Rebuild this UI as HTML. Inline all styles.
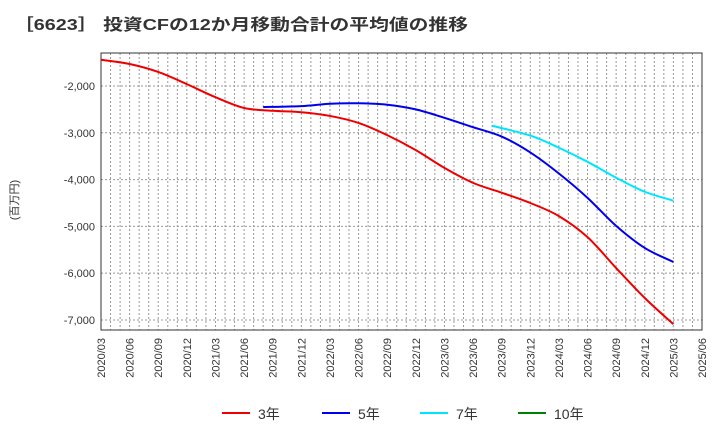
<!DOCTYPE html>
<html><head><meta charset="utf-8"><style>
body{margin:0;background:#fff;font-family:"Liberation Sans","Noto Sans CJK JP",sans-serif}
</style></head><body>
<svg width="720" height="440" xmlns="http://www.w3.org/2000/svg" id="chart" font-family="Liberation Sans, Noto Sans CJK JP, sans-serif">
<text x="14" y="30" font-size="16" font-weight="bold" fill="#333" textLength="454" lengthAdjust="spacingAndGlyphs">［6623］ 投資CFの12か月移動合計の平均値の推移</text>
<text transform="translate(18,200) rotate(-90)" font-size="11" fill="#333" text-anchor="middle">(百万円)</text>
<g id="grid"></g><g id="axes"></g><g id="series"></g><g id="legend"></g>
</svg>
<script>
const xLabels=["2020/03","2020/06","2020/09","2020/12","2021/03","2021/06","2021/09","2021/12","2022/03","2022/06","2022/09","2022/12","2023/03","2023/06","2023/09","2023/12","2024/03","2024/06","2024/09","2024/12","2025/03","2025/06"];
const yTicks=[-2000,-3000,-4000,-5000,-6000,-7000];
const red_m=[0,3,6,9,12,15,18,21,24,27,30,33,36,39,42,45,48,51,54,57,60];
const red_v=[-1440,-1530,-1700,-1960,-2240,-2470,-2530,-2560,-2640,-2790,-3050,-3370,-3750,-4070,-4280,-4500,-4780,-5230,-5890,-6530,-7090];
const blue_m=[17,21,24,27,30,33,36,39,42,45,48,51,54,57,60];
const blue_v=[-2450,-2430,-2380,-2370,-2400,-2500,-2680,-2880,-3080,-3420,-3870,-4390,-4990,-5460,-5760];
const cyan_m=[41,45,48,51,54,57,60];
const cyan_v=[-2850,-3060,-3320,-3620,-3960,-4260,-4450];
const L=101,R=702,T=53,B=330,yMin=-7214,yMax=-1295,months=63;
const X=m=>L+(R-L)*m/months;
const Y=v=>T+(yMax-v)/(yMax-yMin)*(B-T);
const NS="http://www.w3.org/2000/svg";
function mk(tag,a,p){const e=document.createElementNS(NS,tag);for(const k in a)e.setAttribute(k,a[k]);p.appendChild(e);return e;}
const grid=document.getElementById('grid'),axes=document.getElementById('axes'),ser=document.getElementById('series'),leg=document.getElementById('legend');
for(let m=1;m<months;m++){const l=mk('line',{x1:X(m),x2:X(m),y1:T,y2:B,stroke:'#999','stroke-dasharray':'2,2','stroke-width':1},grid);

}
yTicks.forEach(v=>{const l=mk('line',{x1:L,x2:R,y1:Y(v),y2:Y(v),stroke:'#999','stroke-dasharray':'2,2','stroke-width':1},grid);


const t=mk('text',{x:L-6,y:Y(v)+4,'font-size':11,fill:'#333','text-anchor':'end'},axes);t.textContent=v.toLocaleString('en-US');

});
xLabels.forEach((s,i)=>{const x=X(i*3);const t=mk('text',{transform:`translate(${x+4},${B+8}) rotate(-90)`,'font-size':11,fill:'#333','text-anchor':'end'},axes);t.textContent=s;

});
const fr=mk('rect',{x:L,y:T,width:R-L,height:B-T,fill:'none',stroke:'#333','stroke-width':1},axes);


function smooth(pts){let d=`M${pts[0][0]},${pts[0][1]}`;for(let i=0;i<pts.length-1;i++){const p0=pts[i-1]||pts[i],p1=pts[i],p2=pts[i+1],p3=pts[i+2]||p2;
d+=` C${p1[0]+(p2[0]-p0[0])/6},${p1[1]+(p2[1]-p0[1])/6} ${p2[0]-(p3[0]-p1[0])/6},${p2[1]-(p3[1]-p1[1])/6} ${p2[0]},${p2[1]}`;}return d;}
[[red_m,red_v,'#ee0000','series-3y'],[blue_m,blue_v,'#0000ee','series-5y'],[cyan_m,cyan_v,'#00e5ff','series-7y']].forEach(([ms,vs,c,n])=>{
const p=mk('path',{d:smooth(ms.map((m,i)=>[X(m),Y(vs[i])])),fill:'none',stroke:c,'stroke-width':2},ser);

});
[['3年','#ee0000',222],['5年','#0000ee',322],['7年','#00e5ff',420],['10年','#008000',518]].forEach(([s,c,x])=>{
const g=mk('g',{},leg);


mk('line',{x1:x,x2:x+28,y1:413,y2:413,stroke:c,'stroke-width':2},g);
const t=mk('text',{x:x+36,y:419,'font-size':14,fill:'#333'},g);t.textContent=s;});
</script>
</body></html>
